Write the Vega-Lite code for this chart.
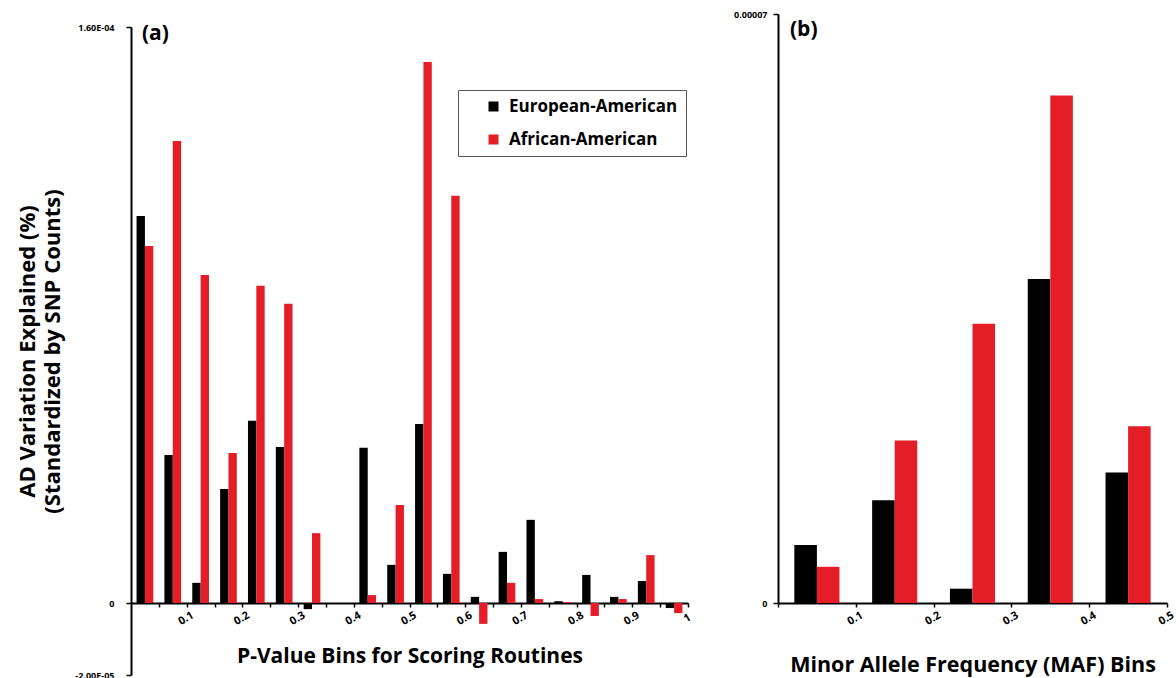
{
  "$schema": "https://vega.github.io/schema/vega-lite/v6.json",
  "padding": {"left": 16, "top": 10, "right": 2, "bottom": 0},
  "background": "white",
  "config": {
    "view": {"stroke": null},
    "font": "Open Sans",
    "axis": {"domainColor": "black", "tickColor": "black", "labelColor": "black", "titleColor": "black", "grid": false, "labelFont": "Open Sans", "titleFont": "Open Sans", "domainWidth": 2, "tickWidth": 1.5}
  },
  "datasets": {
    "a": [
      {"bin_start": 0.00, "group": "European-American", "value": 1.075e-4},
      {"bin_start": 0.05, "group": "European-American", "value": 4.11e-5},
      {"bin_start": 0.10, "group": "European-American", "value": 5.6e-6},
      {"bin_start": 0.15, "group": "European-American", "value": 3.17e-5},
      {"bin_start": 0.20, "group": "European-American", "value": 5.06e-5},
      {"bin_start": 0.25, "group": "European-American", "value": 4.33e-5},
      {"bin_start": 0.30, "group": "European-American", "value": -1.7e-6},
      {"bin_start": 0.35, "group": "European-American", "value": 0},
      {"bin_start": 0.40, "group": "European-American", "value": 4.31e-5},
      {"bin_start": 0.45, "group": "European-American", "value": 1.06e-5},
      {"bin_start": 0.50, "group": "European-American", "value": 4.97e-5},
      {"bin_start": 0.55, "group": "European-American", "value": 8.1e-6},
      {"bin_start": 0.60, "group": "European-American", "value": 1.7e-6},
      {"bin_start": 0.65, "group": "European-American", "value": 1.42e-5},
      {"bin_start": 0.70, "group": "European-American", "value": 2.31e-5},
      {"bin_start": 0.75, "group": "European-American", "value": 5e-7},
      {"bin_start": 0.80, "group": "European-American", "value": 7.8e-6},
      {"bin_start": 0.85, "group": "European-American", "value": 1.7e-6},
      {"bin_start": 0.90, "group": "European-American", "value": 6.1e-6},
      {"bin_start": 0.95, "group": "European-American", "value": -1.4e-6},
      {"bin_start": 0.00, "group": "African-American", "value": 9.92e-5},
      {"bin_start": 0.05, "group": "African-American", "value": 1.283e-4},
      {"bin_start": 0.10, "group": "African-American", "value": 9.11e-5},
      {"bin_start": 0.15, "group": "African-American", "value": 4.17e-5},
      {"bin_start": 0.20, "group": "African-American", "value": 8.81e-5},
      {"bin_start": 0.25, "group": "African-American", "value": 8.31e-5},
      {"bin_start": 0.30, "group": "African-American", "value": 1.94e-5},
      {"bin_start": 0.35, "group": "African-American", "value": 0},
      {"bin_start": 0.40, "group": "African-American", "value": 2.2e-6},
      {"bin_start": 0.45, "group": "African-American", "value": 2.72e-5},
      {"bin_start": 0.50, "group": "African-American", "value": 1.503e-4},
      {"bin_start": 0.55, "group": "African-American", "value": 1.131e-4},
      {"bin_start": 0.60, "group": "African-American", "value": -5.8e-6},
      {"bin_start": 0.65, "group": "African-American", "value": 5.6e-6},
      {"bin_start": 0.70, "group": "African-American", "value": 1.1e-6},
      {"bin_start": 0.75, "group": "African-American", "value": 2e-7},
      {"bin_start": 0.80, "group": "African-American", "value": -3.6e-6},
      {"bin_start": 0.85, "group": "African-American", "value": 1.1e-6},
      {"bin_start": 0.90, "group": "African-American", "value": 1.33e-5},
      {"bin_start": 0.95, "group": "African-American", "value": -2.8e-6}
    ],
    "b": [
      {"bin_start": 0.0, "group": "European-American", "value": 6.9e-6},
      {"bin_start": 0.1, "group": "European-American", "value": 1.22e-5},
      {"bin_start": 0.2, "group": "European-American", "value": 1.7e-6},
      {"bin_start": 0.3, "group": "European-American", "value": 3.85e-5},
      {"bin_start": 0.4, "group": "European-American", "value": 1.55e-5},
      {"bin_start": 0.0, "group": "African-American", "value": 4.3e-6},
      {"bin_start": 0.1, "group": "African-American", "value": 1.93e-5},
      {"bin_start": 0.2, "group": "African-American", "value": 3.32e-5},
      {"bin_start": 0.3, "group": "African-American", "value": 6.03e-5},
      {"bin_start": 0.4, "group": "African-American", "value": 2.1e-5}
    ]
  },
  "spacing": 40,
  "resolve": {"scale": {"color": "independent", "xOffset": "independent"}, "legend": {"color": "independent"}},
  "hconcat": [
    {
      "width": 557,
      "height": 661,
      "title": {"text": "(a)", "anchor": "start", "frame": "group", "offset": -30, "dx": 11, "fontSize": 21, "fontWeight": "bold", "font": "Open Sans", "color": "black"},
      "resolve": {"scale": {"x": "independent"}},
      "layer": [
        {
          "data": {"name": "a"},
          "mark": {"type": "bar"},
          "encoding": {
            "x": {"field": "bin_start", "type": "ordinal", "scale": {"paddingInner": 0.4, "paddingOuter": 0.2}, "axis": null},
            "xOffset": {"field": "group", "type": "nominal", "scale": {"domain": ["European-American", "African-American"], "paddingInner": 0, "paddingOuter": 0}},
            "y": {
              "field": "value", "type": "quantitative",
              "scale": {"domain": [-0.00002, 0.00016], "range": [661, 13], "nice": false, "zero": false},
              "axis": {
                "values": [-0.00002, 0, 0.00016],
                "labelExpr": "datum.value > 0.0001 ? '1.60E-04' : (datum.value < 0 ? '-2.00E-05' : '0')",
                "labelFontSize": 9, "labelFontWeight": "bold", "tickSize": 5, "labelPadding": 12,
                "title": ["AD Variation Explained (%)", "(Standardized by SNP Counts)"],
                "titleFontSize": 22, "titleFontWeight": "bold", "titleLineHeight": 25, "titlePadding": 10
              }
            },
            "color": {
              "field": "group", "type": "nominal",
              "scale": {"domain": ["European-American", "African-American"], "range": ["#000000", "#e41e26"]},
              "legend": {"orient": "none", "legendX": 327, "legendY": 76, "title": null, "labelFontSize": 17, "labelFontWeight": "bold", "labelFont": "Open Sans", "labelColor": "black", "labelLimit": 400, "symbolType": "square", "symbolSize": 100, "symbolStrokeWidth": 0, "symbolOpacity": 1, "symbolOffset": 19, "strokeColor": "#555555", "fillColor": "white", "padding": 8, "rowPadding": 15, "labelOffset": 7}
            }
          }
        },
        {
          "data": {"values": [{}]},
          "mark": {"type": "rule", "opacity": 0},
          "encoding": {
            "x": {
              "datum": 0, "type": "quantitative",
              "scale": {"domain": [0, 1], "nice": false},
              "axis": {
                "values": [0.05, 0.1, 0.15, 0.2, 0.25, 0.3, 0.35, 0.4, 0.45, 0.5, 0.55, 0.6, 0.65, 0.7, 0.75, 0.8, 0.85, 0.9, 0.95, 1.0],
                "labelExpr": "round(datum.value*20) % 2 == 0 ? format(datum.value, '~g') : ''",
                "offset": -72, "tickSize": 4, "labelAngle": -30, "labelAlign": "center", "labelBaseline": "top", "labelOffset": -4, "labelFontSize": 11, "labelFontWeight": "bold", "labelPadding": 6,
                "title": "P-Value Bins for Scoring Routines", "titleFontSize": 21, "titleFontWeight": "bold", "titlePadding": 19
              }
            }
          }
        }
      ]
    },
    {
      "width": 389,
      "height": 589,
      "title": {"text": "(b)", "anchor": "start", "frame": "group", "offset": -30, "dx": 12, "fontSize": 21, "fontWeight": "bold", "font": "Open Sans", "color": "black"},
      "resolve": {"scale": {"x": "independent"}},
      "layer": [
        {
          "data": {"name": "b"},
          "mark": {"type": "bar"},
          "encoding": {
            "x": {"field": "bin_start", "type": "ordinal", "scale": {"paddingInner": 0.42, "paddingOuter": 0.21}, "axis": null},
            "xOffset": {"field": "group", "type": "nominal", "scale": {"domain": ["European-American", "African-American"], "paddingInner": 0, "paddingOuter": 0}},
            "y": {
              "field": "value", "type": "quantitative",
              "scale": {"domain": [0, 0.00007], "nice": false},
              "axis": {
                "values": [0, 0.00007],
                "labelExpr": "datum.value == 0 ? '0' : format(datum.value, '.5f')",
                "labelFontSize": 9, "labelFontWeight": "bold", "tickSize": 5, "labelPadding": 6,
                "title": null
              }
            },
            "color": {
              "field": "group", "type": "nominal",
              "scale": {"domain": ["European-American", "African-American"], "range": ["#000000", "#e41e26"]},
              "legend": null
            }
          }
        },
        {
          "data": {"values": [{}]},
          "mark": {"type": "rule", "opacity": 0},
          "encoding": {
            "x": {
              "datum": 0, "type": "quantitative",
              "scale": {"domain": [0, 0.5], "nice": false},
              "axis": {
                "values": [0, 0.1, 0.2, 0.3, 0.4, 0.5],
                "labelExpr": "datum.value == 0 ? '' : format(datum.value, '~g')",
                "tickSize": 4, "labelAngle": -30, "labelAlign": "center", "labelBaseline": "top", "labelOffset": -4, "labelFontSize": 11, "labelFontWeight": "bold", "labelPadding": 6,
                "title": "Minor Allele Frequency (MAF) Bins", "titleFontSize": 21.5, "titleFontWeight": "bold", "titlePadding": 28
              }
            }
          }
        }
      ]
    }
  ]
}
